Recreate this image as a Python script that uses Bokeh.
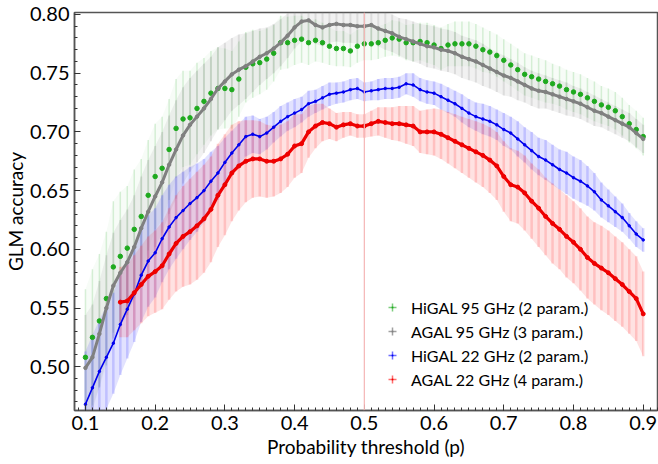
import numpy as np
from bokeh.plotting import figure
from bokeh.models import (ColumnDataSource, FixedTicker, PrintfTickFormatter, Span,
                          Legend, LegendItem, Range1d)
from bokeh.embed import file_html
from bokeh.resources import INLINE

# ---------------- data ----------------
p_grid = [round(0.10 + 0.01 * i, 2) for i in range(81)]          # 0.10 .. 0.90
p_red = [round(0.15 + 0.01 * i, 2) for i in range(76)]           # 0.15 .. 0.90

higal95 = [0.508, 0.525, 0.539, 0.558, 0.585, 0.594, 0.601, 0.617, 0.628, 0.646,
           0.662, 0.669, 0.685, 0.703, 0.711, 0.712, 0.720, 0.726, 0.733, 0.737,
           0.737, 0.736, 0.745, 0.755, 0.758, 0.759, 0.762, 0.767, 0.776, 0.776,
           0.778, 0.779, 0.776, 0.778, 0.776, 0.773, 0.771, 0.771, 0.769, 0.773,
           0.775, 0.775, 0.776, 0.778, 0.780, 0.779, 0.776, 0.776, 0.777, 0.776,
           0.774, 0.771, 0.774, 0.775, 0.775, 0.775, 0.773, 0.770, 0.768, 0.765,
           0.761, 0.757, 0.753, 0.749, 0.747, 0.745, 0.743, 0.741, 0.739, 0.736,
           0.734, 0.732, 0.729, 0.726, 0.723, 0.721, 0.718, 0.713, 0.707, 0.702,
           0.696]
higal95_err = [0.058, 0.058, 0.057, 0.057, 0.056, 0.055, 0.053, 0.051, 0.049, 0.047,
               0.045, 0.044, 0.043, 0.042, 0.041, 0.040, 0.039, 0.037, 0.036, 0.035,
               0.034, 0.033, 0.032, 0.030, 0.029, 0.027, 0.026, 0.024, 0.023, 0.022,
               0.021, 0.020, 0.019, 0.018, 0.017, 0.016, 0.015, 0.015, 0.014, 0.014,
               0.014, 0.014, 0.014, 0.014, 0.015, 0.015, 0.015, 0.016, 0.016, 0.017,
               0.017, 0.018, 0.018, 0.019, 0.019, 0.019, 0.019, 0.019, 0.018, 0.018,
               0.018, 0.018, 0.018, 0.018, 0.018, 0.018, 0.018, 0.017, 0.017, 0.017,
               0.017, 0.017, 0.017, 0.017, 0.016, 0.016, 0.016, 0.016, 0.016, 0.016,
               0.016]

agal95 = [0.499, 0.508, 0.528, 0.550, 0.569, 0.580, 0.589, 0.602, 0.618, 0.632,
          0.645, 0.657, 0.672, 0.685, 0.697, 0.706, 0.713, 0.720, 0.728, 0.737,
          0.743, 0.749, 0.753, 0.756, 0.760, 0.764, 0.767, 0.771, 0.776, 0.782,
          0.789, 0.794, 0.795, 0.791, 0.789, 0.791, 0.792, 0.791, 0.791, 0.790,
          0.790, 0.791, 0.788, 0.786, 0.784, 0.781, 0.779, 0.777, 0.775, 0.773,
          0.772, 0.770, 0.769, 0.767, 0.764, 0.762, 0.760, 0.757, 0.754, 0.751,
          0.748, 0.746, 0.743, 0.740, 0.737, 0.735, 0.734, 0.732, 0.730, 0.728,
          0.726, 0.724, 0.721, 0.718, 0.716, 0.713, 0.710, 0.707, 0.704, 0.699,
          0.694]
agal95_err = [0.045, 0.045, 0.045, 0.045, 0.045, 0.045, 0.045, 0.044, 0.044, 0.044,
              0.043, 0.043, 0.042, 0.042, 0.041, 0.040, 0.039, 0.038, 0.036, 0.035,
              0.033, 0.031, 0.030, 0.028, 0.026, 0.024, 0.022, 0.021, 0.020, 0.019,
              0.018, 0.017, 0.017, 0.016, 0.016, 0.015, 0.015, 0.015, 0.015, 0.015,
              0.015, 0.015, 0.015, 0.016, 0.016, 0.016, 0.017, 0.017, 0.017, 0.018,
              0.018, 0.018, 0.018, 0.018, 0.018, 0.018, 0.018, 0.018, 0.017, 0.017,
              0.017, 0.016, 0.016, 0.015, 0.015, 0.015, 0.014, 0.014, 0.014, 0.014,
              0.013, 0.013, 0.013, 0.013, 0.012, 0.012, 0.012, 0.012, 0.012, 0.012,
              0.012]

higal22 = [0.468, 0.482, 0.496, 0.508, 0.520, 0.536, 0.549, 0.562, 0.578, 0.590,
           0.597, 0.609, 0.619, 0.627, 0.633, 0.639, 0.644, 0.650, 0.658, 0.665,
           0.674, 0.682, 0.689, 0.696, 0.698, 0.696, 0.699, 0.704, 0.709, 0.713,
           0.716, 0.719, 0.724, 0.726, 0.729, 0.732, 0.733, 0.734, 0.736, 0.737,
           0.734, 0.735, 0.736, 0.737, 0.737, 0.738, 0.741, 0.740, 0.736, 0.734,
           0.733, 0.730, 0.727, 0.724, 0.720, 0.716, 0.713, 0.711, 0.709, 0.706,
           0.702, 0.699, 0.694, 0.689, 0.684, 0.679, 0.676, 0.672, 0.668, 0.665,
           0.661, 0.658, 0.654, 0.649, 0.642, 0.637, 0.632, 0.627, 0.620, 0.613,
           0.608]
higal22_err = [0.045, 0.045, 0.044, 0.044, 0.043, 0.043, 0.042, 0.041, 0.040, 0.039,
               0.038, 0.037, 0.036, 0.035, 0.033, 0.031, 0.029, 0.027, 0.025, 0.023,
               0.021, 0.019, 0.018, 0.017, 0.016, 0.015, 0.014, 0.013, 0.013, 0.012,
               0.012, 0.011, 0.011, 0.010, 0.010, 0.010, 0.009, 0.009, 0.009, 0.009,
               0.008, 0.008, 0.009, 0.009, 0.009, 0.009, 0.009, 0.010, 0.010, 0.010,
               0.010, 0.011, 0.011, 0.011, 0.012, 0.012, 0.012, 0.013, 0.013, 0.013,
               0.014, 0.014, 0.015, 0.015, 0.016, 0.016, 0.017, 0.017, 0.017, 0.018,
               0.018, 0.018, 0.017, 0.016, 0.015, 0.014, 0.013, 0.012, 0.011, 0.011,
               0.010]

agal22 = [0.555, 0.556, 0.563, 0.570, 0.577,
          0.581, 0.586, 0.596, 0.605, 0.611, 0.615, 0.620, 0.626, 0.634, 0.646,
          0.655, 0.665, 0.671, 0.675, 0.677, 0.677, 0.675, 0.675, 0.677, 0.681,
          0.688, 0.690, 0.700, 0.705, 0.708, 0.707, 0.704, 0.706, 0.707, 0.705,
          0.705, 0.707, 0.709, 0.708, 0.707, 0.707, 0.706, 0.705, 0.700, 0.700,
          0.700, 0.698, 0.695, 0.692, 0.689, 0.686, 0.683, 0.680, 0.676, 0.671,
          0.662, 0.655, 0.653, 0.648, 0.641, 0.635, 0.628, 0.622, 0.617, 0.611,
          0.606, 0.600, 0.593, 0.588, 0.584, 0.580, 0.575, 0.570, 0.564, 0.558,
          0.545]
agal22_err = [0.030, 0.031, 0.032, 0.033, 0.034,
              0.035, 0.037, 0.039, 0.041, 0.043, 0.045, 0.046, 0.046, 0.045, 0.044,
              0.043, 0.041, 0.038, 0.035, 0.033, 0.032, 0.031, 0.030, 0.029, 0.028,
              0.027, 0.025, 0.022, 0.019, 0.016, 0.013, 0.012, 0.011, 0.010, 0.010,
              0.010, 0.011, 0.012, 0.013, 0.014, 0.015, 0.016, 0.017, 0.018, 0.019,
              0.020, 0.021, 0.022, 0.023, 0.024, 0.025, 0.026, 0.027, 0.028, 0.029,
              0.030, 0.031, 0.031, 0.032, 0.032, 0.033, 0.033, 0.034, 0.034, 0.035,
              0.035, 0.035, 0.035, 0.035, 0.036, 0.036, 0.036, 0.036, 0.036, 0.036,
              0.036]

labels = ["HiGAL 95 GHz (2 param.)", "AGAL 95 GHz (3 param.)",
          "HiGAL 22 GHz (2 param.)", "AGAL 22 GHz (4 param.)"]
x_major = [0.1, 0.2, 0.3, 0.4, 0.5, 0.6, 0.7, 0.8, 0.9]
y_major = [0.50, 0.55, 0.60, 0.65, 0.70, 0.75, 0.80]

FONT = "Lato"

p = figure(width=658, height=464, output_backend="svg", toolbar_location=None,
           x_range=Range1d(0.0843, 0.9205), y_range=Range1d(0.4627, 0.8017),
           min_border_left=0, min_border_right=1, min_border_top=12, min_border_bottom=54)
p.grid.visible = False
p.outline_line_color = "#555555"
p.outline_line_width = 1.5
p.background_fill_color = "white"
p.border_fill_color = "white"

# axes
p.xaxis.ticker = FixedTicker(ticks=x_major,
                             minor_ticks=[round(0.09 + 0.01 * i, 2) for i in range(84)])
p.yaxis.ticker = FixedTicker(ticks=y_major,
                             minor_ticks=[round(0.46 + 0.01 * i, 2) for i in range(35)])
p.xaxis.formatter = PrintfTickFormatter(format="%.1f")
p.yaxis.formatter = PrintfTickFormatter(format="%.2f")
for ax in (p.xaxis[0], p.yaxis[0]):
    ax.axis_line_color = "#555555"
    ax.axis_line_width = 1.5
    ax.major_tick_in = 6
    ax.major_tick_out = 0
    ax.minor_tick_in = 3
    ax.minor_tick_out = 0
    ax.major_tick_line_color = "#333333"
    ax.minor_tick_line_color = "#333333"
    ax.major_label_text_font = FONT
    ax.major_label_text_font_size = "20px"
    ax.major_label_text_color = "black"
    ax.axis_label_text_font = FONT
    ax.axis_label_text_font_size = "19px"
    ax.axis_label_text_font_style = "normal"
    ax.axis_label_text_color = "black"
p.xaxis.axis_label = "Probability threshold (p)"
p.yaxis.axis_label = "GLM accuracy"
p.xaxis.major_label_standoff = 5
p.yaxis.major_label_standoff = 5
p.xaxis.axis_label_standoff = 2
p.yaxis.axis_label_standoff = 0

p.add_layout(Span(location=0.5, dimension="height", line_color="#f5b5b5", line_width=1.2))

series = [
    (p_grid, higal95, higal95_err, "#1faa1f", "#5cc05c", 0.05, 0.22, 1.5),
    (p_grid, agal95, agal95_err, "#808080", "#8a8a8a", 0.12, 0.2, 2.0),
    (p_grid, higal22, higal22_err, "#0000ee", "#4a4aff", 0.16, 0.22, 2.5),
    (p_red, agal22, agal22_err, "#ee0000", "#ff4a4a", 0.16, 0.22, 2.5),
]

for i, (xs, ys, es, col, ecol, fa, la, lw) in enumerate(series):
    lo = [y - e for y, e in zip(ys, es)]
    hi = [y + e for y, e in zip(ys, es)]
    src = ColumnDataSource(dict(x=xs, y=ys, lo=lo, hi=hi))
    p.varea(x="x", y1="lo", y2="hi", source=src, fill_color=ecol, fill_alpha=fa)
    p.segment(x0="x", y0="lo", x1="x", y1="hi", source=src, line_color=ecol,
              line_alpha=la, line_width=lw)

legend_items = []
for i, (xs, ys, es, col, ecol, fa, la, lw) in enumerate(series):
    src = ColumnDataSource(dict(x=xs, y=ys))
    if i == 0:
        p.scatter(x="x", y="y", source=src, size=4.5, fill_color=col, line_color=col)
    elif i == 1:
        p.line(x="x", y="y", source=src, line_color=col, line_width=3)
        p.scatter(x="x", y="y", source=src, size=3.5, fill_color=col, line_color=col)
    elif i == 2:
        p.line(x="x", y="y", source=src, line_color=col, line_width=1.6)
        p.scatter(x="x", y="y", source=src, size=2.5, fill_color=col, line_color=col)
    else:
        p.line(x="x", y="y", source=src, line_color=col, line_width=3.2)
        p.scatter(x="x", y="y", source=src, size=4, fill_color=col, line_color=col)

    dummy = ColumnDataSource(dict(x=[-5.0], y=[-5.0]))
    r1 = p.scatter(x="x", y="y", source=dummy, marker="cross", size=11,
                   line_color=ecol, line_alpha=0.8, line_width=1.5)
    r2 = p.scatter(x="x", y="y", source=dummy, marker="dot", size=11,
                   line_color=col, fill_color=col, line_width=3)
    legend_items.append(LegendItem(label=labels[i], renderers=[r1, r2]))

legend = Legend(items=legend_items, location=(308, 19))
legend.border_line_color = None
legend.background_fill_alpha = 0
legend.label_text_font = FONT
legend.label_text_font_size = "16px"
legend.label_text_color = "black"
legend.glyph_width = 20
legend.glyph_height = 24
legend.label_height = 24
legend.label_standoff = 9
legend.spacing = 0
legend.padding = 0
legend.margin = 0
p.add_layout(legend)

open("out.html", "w").write(file_html(p, INLINE))
